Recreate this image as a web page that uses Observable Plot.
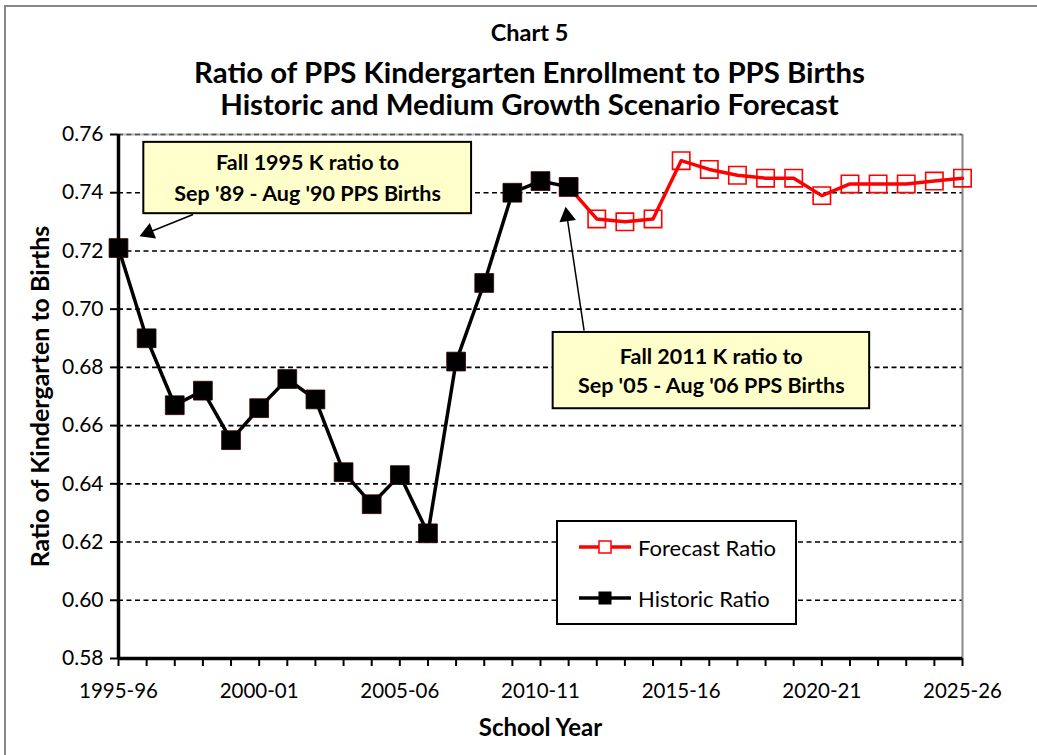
<!DOCTYPE html>
<html>
<head>
<meta charset="utf-8">
<script src="https://cdn.jsdelivr.net/npm/d3@7"></script>
<script src="https://cdn.jsdelivr.net/npm/@observablehq/plot@0.6"></script>
<style>
  html, body { margin: 0; padding: 0; background: #fff; }
  body { width: 1037px; height: 755px; overflow: hidden; font-family: Lato, "Open Sans", sans-serif; }
  #wrap { position: relative; width: 1037px; height: 755px; }
  #frame { position: absolute; left: 4px; top: 5px; width: 1100px; height: 900px; border-left: 2px solid #888; border-top: 2px solid #888; }
  #header { position: relative; height: 130px; text-align: center; font-weight: bold; color: #000; line-height: 1.2; }
  #header div { position: absolute; left: 22px; right: 0; white-space: nowrap; }
  #h1 { top: 18px; font-size: 23.5px; }
  #h2 { top: 54px; font-size: 29.4px; }
  #h3 { top: 86px; font-size: 29.4px; }
  #chart { position: absolute; left: 0; top: 130px; }
  #legend { position: absolute; left: 556px; top: 520px; width: 237px; height: 101px; border: 2px solid #000; background: #fff; }
  .lrow { position: absolute; left: 20px; height: 26px; display: flex; align-items: center; font-size: 22px; white-space: nowrap; }
  .lrow svg { margin-right: 6px; }
</style>
</head>
<body>
<div id="wrap">
  <div id="frame"></div>
  <div id="header">
    <div id="h1">Chart 5</div>
    <div id="h2">Ratio of PPS Kindergarten Enrollment to PPS Births</div>
    <div id="h3">Historic and Medium Growth Scenario Forecast</div>
  </div>
  <div id="chart"></div>
  <div id="legend">
    <div class="lrow" style="top:12px;">
      <svg width="54" height="20"><line x1="1" y1="10" x2="53" y2="10" stroke="#ff0000" stroke-width="3.5"/><rect x="21" y="4" width="12" height="12" fill="#fff" stroke="#ff0000" stroke-width="1.5"/></svg>
      <span>Forecast Ratio</span>
    </div>
    <div class="lrow" style="top:63px;">
      <svg width="54" height="20"><line x1="1" y1="10" x2="53" y2="10" stroke="#000" stroke-width="3.5"/><rect x="21" y="4" width="12" height="12" fill="#000" stroke="#000" stroke-width="1"/></svg>
      <span>Historic Ratio</span>
    </div>
  </div>
</div>
<script>
// ---- Data ----
const historicYears = [1995,1996,1997,1998,1999,2000,2001,2002,2003,2004,2005,2006,2007,2008,2009,2010,2011];
const historicRatio = [0.721,0.690,0.667,0.672,0.655,0.666,0.676,0.669,0.644,0.633,0.643,0.623,0.682,0.709,0.740,0.744,0.742];

const forecastYears = [2011,2012,2013,2014,2015,2016,2017,2018,2019,2020,2021,2022,2023,2024,2025];
const forecastRatio = [0.742,0.731,0.730,0.731,0.751,0.748,0.746,0.745,0.745,0.739,0.743,0.743,0.743,0.744,0.745];

const xTickYears = [1995,2000,2005,2010,2015,2020,2025];
const xTickLabels = ["1995-96","2000-01","2005-06","2010-11","2015-16","2020-21","2025-26"];
const yTicks = [0.58,0.60,0.62,0.64,0.66,0.68,0.70,0.72,0.74,0.76];
const allYears = d3.range(1995, 2026);

// annotation boxes (data units)
const noteBoxes = [
  {x1: 1995.9, x2: 2007.55, y1: 0.7573, y2: 0.7328},
  {x1: 2010.45, x2: 2021.7, y1: 0.6920, y2: 0.6658}
];
const noteTexts = [
  {x: 2001.72, y: 0.7502, text: "Fall 1995 K ratio to"},
  {x: 2001.72, y: 0.7395, text: "Sep '89 - Aug '90 PPS Births"},
  {x: 2016.07, y: 0.6834, text: "Fall 2011 K ratio to"},
  {x: 2016.07, y: 0.6734, text: "Sep '05 - Aug '06 PPS Births"}
];
const noteArrows = [
  {x1: 1997.65, y1: 0.7325, x2: 1995.8, y2: 0.7253},
  {x1: 2011.55, y1: 0.6926, x2: 2010.9, y2: 0.7346}
];

const historic = historicYears.map((y, i) => ({year: y, ratio: historicRatio[i]}));
const forecast = forecastYears.map((y, i) => ({year: y, ratio: forecastRatio[i]}));

// plot geometry
const W = 1037, H = 625, mT = 4, mB = 97, mL = 118, mR = 75;
const xDom = [1995, 2025], yDom = [0.58, 0.76];
const pxPerX = (W - mL - mR) / (xDom[1] - xDom[0]);
const pxPerY = (H - mT - mB) / (yDom[1] - yDom[0]);

// filled arrowheads: compute direction in pixel space
const headR = 6.2;
const triH = Math.sqrt(Math.sqrt(3) * Math.PI) * headR * Math.sqrt(3) / 2 / Math.sqrt(Math.sqrt(3) / 4 * 4) ;
const heads = noteArrows.map(a => {
  const dx = (a.x2 - a.x1) * pxPerX;
  const dy = -(a.y2 - a.y1) * pxPerY;
  const len = Math.hypot(dx, dy);
  const ux = dx / len, uy = dy / len;
  const angle = Math.atan2(ux, -uy) * 180 / Math.PI;
  const back = 8;
  return {
    x: a.x2 - ux * back / pxPerX,
    y: a.y2 + uy * back / pxPerY,
    sx: a.x2 - ux * 10 / pxPerX,
    sy: a.y2 + uy * 10 / pxPerY,
    x1: a.x1, y1: a.y1,
    angle
  };
});

const font = "Lato, 'Open Sans', sans-serif";

const chart = Plot.plot({
  width: W,
  height: H,
  marginTop: mT,
  marginBottom: mB,
  marginLeft: mL,
  marginRight: mR,
  style: {fontFamily: font, fontSize: "20px", color: "#000", background: "transparent", overflow: "visible"},
  x: {domain: xDom},
  y: {domain: yDom},
  marks: [
    // grid
    Plot.ruleY(yTicks.filter(v => v > 0.58), {stroke: "#000", strokeWidth: 1.6, strokeDasharray: "5,3.5"}),
    // frame top/right
    Plot.ruleY([0.76], {stroke: "#888", strokeWidth: 2, strokeOpacity: 0.6}),
    Plot.ruleX([2025], {stroke: "#888", strokeWidth: 2}),
    // axes
    Plot.axisX({ticks: allYears, tickSize: 8, tickFormat: () => "", strokeWidth: 2, stroke: "#000"}),
    Plot.axisX({ticks: xTickYears, tickSize: 0, tickPadding: 25, tickFormat: (d) => xTickLabels[xTickYears.indexOf(d)], fontSize: 20.5, label: null}),
    Plot.axisY({ticks: yTicks, tickSize: 8, tickPadding: 7, tickFormat: (d) => d.toFixed(2), strokeWidth: 2, fontSize: 21, label: null}),
    Plot.ruleX([1995], {stroke: "#000", strokeWidth: 3.5}),
    Plot.ruleY([0.58], {stroke: "#000", strokeWidth: 3.5}),
    // axis titles
    Plot.text(["Ratio of Kindergarten to Births"], {frameAnchor: "left", textAnchor: "middle", lineAnchor: "middle", rotate: -90, dx: -78, fontWeight: "bold", fontSize: 25}),
    Plot.text(["School Year"], {frameAnchor: "bottom", textAnchor: "middle", lineAnchor: "middle", dy: 70, fontWeight: "bold", fontSize: 24}),
    // forecast
    Plot.line(forecast, {x: "year", y: "ratio", stroke: "#ff0000", strokeWidth: 3.5}),
    Plot.dot(forecast, {x: "year", y: "ratio", symbol: "square", r: 9.8, fill: "none", stroke: "#ff0000", strokeWidth: 1.6}),
    // historic
    Plot.line(historic, {x: "year", y: "ratio", stroke: "#000", strokeWidth: 3.5}),
    Plot.dot(historic, {x: "year", y: "ratio", symbol: "square", r: 10.6, fill: "#000", stroke: "#300", strokeWidth: 0.8}),
    // annotations
    Plot.rect(noteBoxes, {x1: "x1", x2: "x2", y1: "y1", y2: "y2", fill: "#ffffcc", stroke: "#000", strokeWidth: 2}),
    Plot.text(noteTexts, {x: "x", y: "y", text: "text", fontWeight: "bold", fontSize: 21.5}),
    Plot.link(heads, {x1: "x1", y1: "y1", x2: "sx", y2: "sy", stroke: "#000", strokeWidth: 1.5}),
    Plot.dot(heads, {x: "x", y: "y", symbol: "triangle", r: headR, rotate: "angle", fill: "#000", stroke: "none"})
  ]
});
document.getElementById("chart").appendChild(chart);
</script>
</body>
</html>
